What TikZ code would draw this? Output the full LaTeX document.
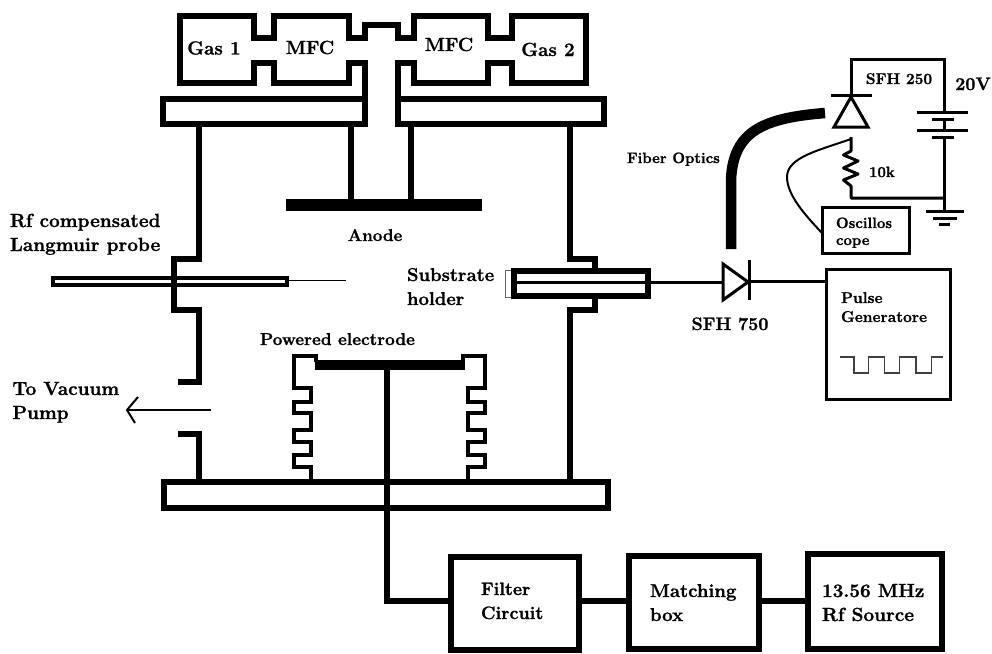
\documentclass[tikz,border=0pt]{standalone}
\usepackage{fontspec}
\setmainfont{Latin Modern Roman}[BoldFeatures={FakeBold=1.2}]
\tikzset{
  heavy/.style={line width=6pt,line join=miter},
  medium/.style={line width=3pt,line join=miter},
  bellow/.style={line width=4.2pt,line join=miter},
  lbl/.style={inner sep=0pt,outer sep=0pt,anchor=base west,font=\bfseries\fontsize{#1}{#1}\selectfont},
  lbl/.default=17,
  ctr/.style={inner sep=0pt,outer sep=0pt,anchor=base,font=\bfseries\fontsize{#1}{#1}\selectfont},
  ctr/.default=17,
  heavybox/.style={draw,line width=6pt,inner sep=0pt,outer sep=0pt},
  thinbox/.style={draw,line width=3pt,inner sep=0pt,outer sep=0pt}
}
\begin{document}
\begin{tikzpicture}[x=1pt,y=-1pt]
\useasboundingbox (0,0) rectangle (992,653);
% gas manifold
\draw[heavy] (365,63) -- (349,63) -- (349,83) -- (274,83) -- (274,63) -- (254,63) -- (254,83) -- (179.5,83) -- (179.5,16) -- (254,16) -- (254,38) -- (274,38) -- (274,16) -- (349,16) -- (349,38) -- (365,38) -- (365,25) -- (398,25) -- (398,38) -- (414,38) -- (414,16) -- (488,16) -- (488,38) -- (512,38) -- (512,16) -- (586,16) -- (586,83) -- (512,83) -- (512,63) -- (488,63) -- (488,83) -- (414,83) -- (414,63) -- (398,63);
% top flange
\draw[heavy] (365,60) -- (365,124) -- (163,124) -- (163,99) -- (365,99);
\draw[heavy] (398,60) -- (398,124) -- (604,124) -- (604,99) -- (398,99);
% anode
\draw[heavy] (351,124) -- (351,200);
\draw[heavy] (411,124) -- (411,200);
\fill (286,199) rectangle (482,211);
% left wall
\draw[heavy] (199,124) -- (199,259) -- (174,259) -- (174,310) -- (199,310) -- (199,382) -- (178,382);
\draw[heavy] (178,434) -- (199,434) -- (199,480);
% right wall
\draw[heavy] (570,124) -- (570,259) -- (595,259) -- (595,270);
\draw[heavy] (595,297) -- (595,310) -- (570,310) -- (570,480);
% probe
\draw[line width=4pt] (52.5,277.5) rectangle (287,285);
\draw[line width=5pt] (174,270) -- (174,292);
\draw[line width=1.8pt] (289,280.5) -- (346,280.5);
% pump arrow
\coordinate (pumpTail) at (211,410);
\coordinate (pumpTip) at (127,410);
\draw[line width=2pt] (pumpTail) -- (pumpTip);
\draw[line width=2pt] (138,397) -- (pumpTip) -- (135,423);
% substrate holder
\draw[line width=0.9pt,draw=black!60] (511,270.5) -- (505.5,270.5) -- (505.5,297) -- (511,297);
\draw[line width=6pt] (514,271) rectangle (648,296);
\draw[medium] (514,282.5) -- (722,282.5);
% SFH 750
\draw[medium] (723,264) -- (723,300) -- (748,282) -- cycle;
\draw[medium] (749.5,260) -- (749.5,300);
% pulse generator
\node[thinbox,minimum width=124pt,minimum height=130.5pt] (pulse) at (888,334.7) {};
\draw[medium] (749.5,281.5) -- (pulse.west |- 0,281.5);
\draw[line width=1.2pt,draw=black!75] (840,357) -- (854,357) -- (854,373) -- (868.5,373) -- (868.5,357) -- (884.6,357) -- (884.6,373) -- (899.6,373) -- (899.6,357) -- (916,357) -- (916,373) -- (931.6,373) -- (931.6,357) -- (943,357);
% fiber optics
\draw[line width=10.5pt] (731,249) -- (731,180) .. controls (733,130) and (765,118) .. (825,113);
% SFH 250 circuit
\draw[medium] (851,97) -- (851,59) -- (944,59) -- (944,112);
\draw[medium] (831,95) -- (872,95);
\draw[medium] (851,97) -- (868,127) -- (834,127) -- cycle;
\draw[line width=3pt,line join=round] (851,137) -- (851,151) -- (843.5,155) -- (858,161) -- (843.5,168) -- (858,174) -- (843.5,180) -- (851,186) -- (851,198) -- (944,198);
\draw[medium] (917,112) -- (968,112);
\draw[medium] (932,119.5) -- (954,119.5);
\draw[medium] (944,119.5) -- (944,130);
\draw[medium] (917,130) -- (968,130);
\draw[medium] (932,137) -- (954,137);
\draw[medium] (944,137) -- (944,211);
\draw[medium] (926,211) -- (964,211);
\draw[medium] (933,218) -- (957,218);
\draw[line width=3pt] (939,224) -- (950,224);
% oscilloscope
\node[thinbox,minimum width=87pt,minimum height=45.5pt] (scope) at (865.5,230.7) {};
\draw[line width=2pt] (851,139) .. controls (820,150) and (787,157) .. (787,177) .. controls (787,195) and (805,215) .. (scope.west |- 0,233);
% powered electrode and bellows
\draw[bellow] (316,362) -- (316,356) -- (294,356) -- (294,388) -- (311,388) -- (311,402) -- (294,402) -- (294,413) -- (311,413) -- (311,430) -- (294,430) -- (294,442) -- (311,442) -- (311,455) -- (294,455) -- (294,467) -- (311,467) -- (311,480);
\draw[bellow] (463,362) -- (463,356) -- (485,356) -- (485,388) -- (468,388) -- (468,402) -- (485,402) -- (485,413) -- (468,413) -- (468,430) -- (485,430) -- (485,442) -- (468,442) -- (468,455) -- (485,455) -- (485,467) -- (468,467) -- (468,480);
\fill (314.5,360) rectangle (465,369.5);
% bottom flange
\draw[heavy] (164,482) rectangle (608,508);
% RF chain
\node[heavybox,minimum width=128pt,minimum height=93pt] (filter) at (514.5,603.5) {};
\node[heavybox,minimum width=130pt,minimum height=93pt] (matching) at (693.5,602.5) {};
\node[heavybox,minimum width=134pt,minimum height=94.5pt] (source) at (875,601.7) {};
\coordinate (feedTop) at (387,365);
\draw[heavy] (feedTop) -- (387,600.5) -- (filter.west |- 0,600.5);
\draw[heavy] (filter.east |- 0,600.5) -- (matching.west |- 0,600.5);
\draw[heavy] (matching.east |- 0,600.5) -- (source.west |- 0,600.5);
% labels
\node[ctr=19] (gasa) at (214,54.5) {Gas 1};
\node[ctr=19] (mfca) at (310,54) {MFC};
\node[ctr=19] (mfcb) at (449,51) {MFC};
\node[ctr=19] (gasb) at (548,56) {Gas 2};
\node[lbl=19] (probea) at (10,227) {Rf compensated};
\node[lbl=19] (probeb) at (10,251) {Langmuir probe};
\node[ctr=17] (anode) at (375,241) {Anode};
\node[lbl=18.5] (subsa) at (407,281) {Substrate};
\node[lbl=18.5] (subsb) at (407,305) {holder};
\node[lbl=17.2] (powered) at (260,345) {Powered electrode};
\node[lbl=19] (vaca) at (12.5,395) {To Vacuum};
\node[lbl=19] (vacb) at (12.5,419) {Pump};
\node[ctr=18] (sfhb) at (730,330) {SFH 750};
\node[ctr=15.5] (sfha) at (899,84) {SFH 250};
\node[ctr=18] (volt) at (973,90) {20V};
\node[lbl=15] (res) at (869,177) {10k};
\node[lbl=15] (fiber) at (627,163) {Fiber Optics};
\node[lbl=15] (scopea) at (836,228) {Oscillos};
\node[lbl=15] (scopeb) at (836,245) {cope};
\node[lbl=15.6] (pulsea) at (841,303) {Pulse};
\node[lbl=15.6] (pulseb) at (841,322) {Generatore};
\node[lbl=18] (filta) at (481,595) {Filter};
\node[lbl=18] (filtb) at (481,619) {Circuit};
\node[lbl=18.6] (mata) at (650,597) {Matching};
\node[lbl=18.6] (matb) at (650,621) {box};
\node[lbl=19] (srca) at (822,597) {13.56 MHz};
\node[lbl=19] (srcb) at (822,621) {Rf Source};
\end{tikzpicture}
\end{document}
